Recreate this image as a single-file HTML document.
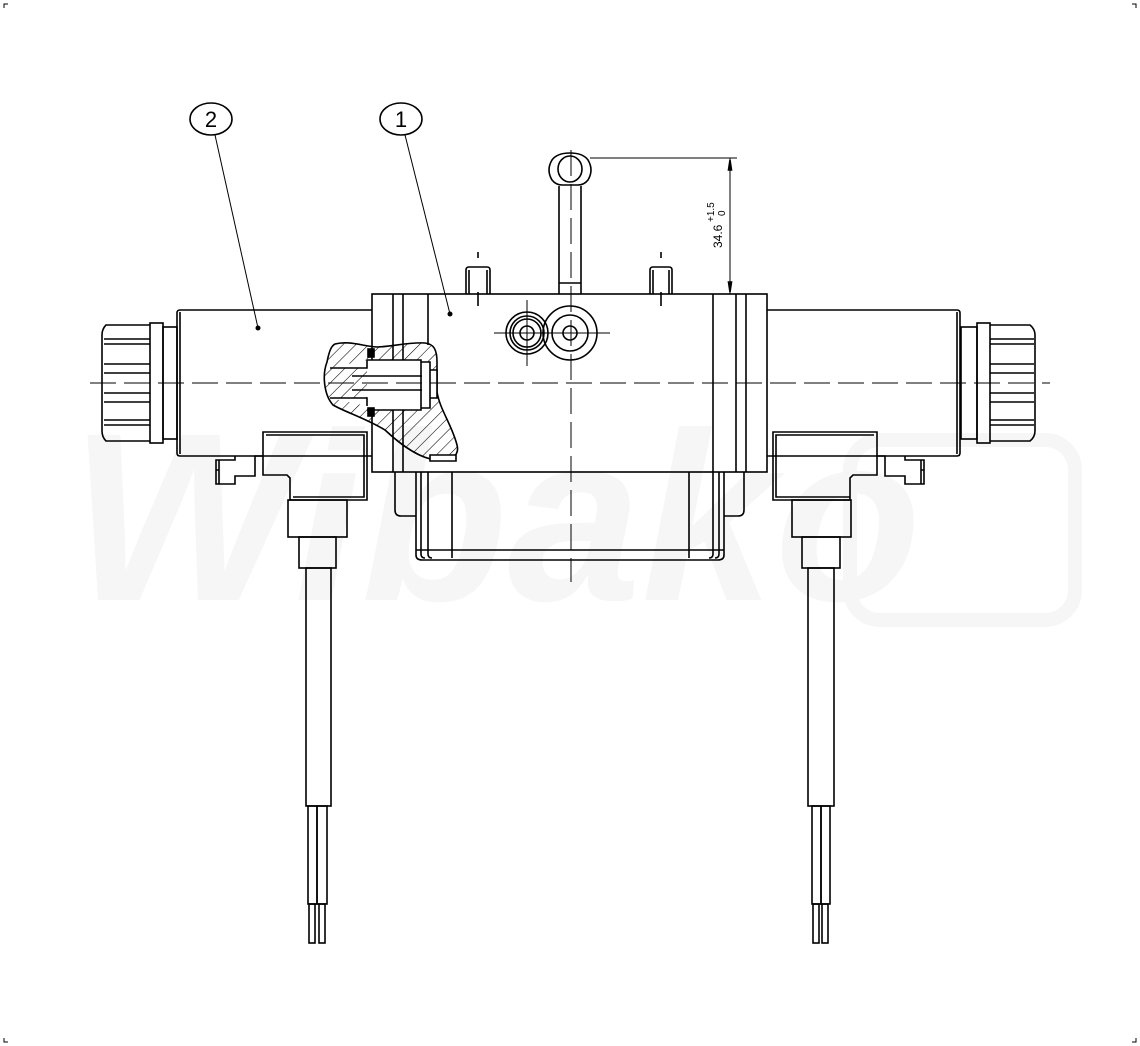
<!DOCTYPE html>
<html><head><meta charset="utf-8"><style>
html,body{margin:0;padding:0;background:#fff}
svg{display:block}
</style></head><body>
<svg width="1140" height="1046" viewBox="0 0 1140 1046" xmlns="http://www.w3.org/2000/svg">
<defs>
<pattern id="hatch" width="9" height="9" patternUnits="userSpaceOnUse" patternTransform="rotate(45)">
<line x1="0" y1="0" x2="0" y2="9" stroke="#000" stroke-width="1.1"/>
</pattern>
</defs>
<rect width="1140" height="1046" fill="#fff"/>
<!-- watermark -->
<text x="70" y="600" font-family="Liberation Sans, sans-serif" font-size="240" font-weight="bold" font-style="italic" fill="#f6f6f6">Wibako</text>
<rect x="850" y="440" width="225" height="180" rx="30" fill="none" stroke="#f6f6f6" stroke-width="14"/>
<!-- corner marks -->
<g stroke="#000" stroke-width="1" fill="none">
<path d="M4 8V4h4M1136 8V4h-4M4 1038v4h4M1136 1038v4h-4"/>
</g>
<g fill="none" stroke="#000" stroke-width="1.6">
<!-- balloons -->
<ellipse cx="211" cy="119" rx="21" ry="16"/>
<ellipse cx="401" cy="119" rx="21" ry="16"/>
<line x1="215" y1="135" x2="258" y2="328" stroke-width="1"/>
<line x1="405" y1="135" x2="450" y2="314" stroke-width="1"/>
<!-- main body -->
<rect x="372" y="294" width="395" height="178"/>
<line x1="393" y1="294" x2="393" y2="472"/>
<line x1="403" y1="294" x2="403" y2="472"/>
<line x1="428" y1="294" x2="428" y2="345"/>
<line x1="713" y1="294" x2="713" y2="472"/>
<line x1="736" y1="294" x2="736" y2="472"/>
<line x1="746" y1="294" x2="746" y2="472"/>
<!-- pins -->
<path d="M466 294V270q0-3 3-3h18q3 0 3 3v24M469 294V270M487 294V270"/>
<path d="M650 294V270q0-3 3-3h16q3 0 3 3v24M653 294V270M669 294V270"/>
<line x1="478" y1="252" x2="478" y2="258"/><line x1="478" y1="292" x2="478" y2="306"/>
<line x1="661" y1="252" x2="661" y2="258"/><line x1="661" y1="292" x2="661" y2="306"/>
<!-- stem & eye -->
<path d="M559 294V186M581 294V186M559 283h22"/>
<path d="M552 160 q-6 10 0 20 q4 5 10 5 h16 q6 0 10-5 q6-10 0-20 q-5-7-18-7 q-13 0-18 7z"/>
<ellipse cx="570" cy="169" rx="12" ry="13"/>
<!-- dimension -->
<line x1="590" y1="158" x2="737" y2="158" stroke-width="1"/>
<line x1="730" y1="158" x2="730" y2="294" stroke-width="1"/>
<path d="M730 160l-1.5 10h3z M730 292l-1.5-10h3z" fill="#000"/>
<!-- circles -->
<circle cx="527" cy="333" r="21"/><circle cx="527" cy="333" r="17"/><circle cx="527" cy="333" r="14"/><circle cx="527" cy="333" r="7"/>
<circle cx="570" cy="333" r="27"/><circle cx="570" cy="333" r="18"/><circle cx="570" cy="333" r="7"/>
<line x1="494" y1="333" x2="610" y2="333" stroke-width="1"/>
<line x1="527" y1="300" x2="527" y2="366" stroke-width="1"/>
<!-- left coil -->
<path d="M372 310H180q-3 0-3 3v140q0 3 3 3h192"/>
<line x1="180" y1="312" x2="180" y2="454"/>
<rect x="163" y="327" width="14" height="112"/>
<rect x="150" y="323" width="13" height="120"/>
<path d="M150 325H106q-4 4-4 10v96q0 6 4 10h44"/>
<path d="M104 339h46M104 344h46M104 364h46M104 373h46M104 393h46M104 402h46M104 420h46M104 425h46"/>
<!-- right coil -->
<path d="M767 310H957q3 0 3 3v140q0 3-3 3H767"/>
<line x1="957" y1="312" x2="957" y2="454"/>
<rect x="961" y="327" width="16" height="112"/>
<rect x="977" y="323" width="13" height="120"/>
<path d="M990 325H1030q5 4 5 10v96q0 6-5 10H990"/>
<path d="M990 339h44M990 344h44M990 364h44M990 373h44M990 393h44M990 402h44M990 420h44M990 425h44"/>
<!-- left connector -->
<path d="M263 432h104v68H290v-22l-3-3h-24z"/>
<path d="M266 435h98v62H293"/>
<rect x="288" y="500" width="59" height="37"/>
<rect x="299" y="537" width="37" height="31"/>
<rect x="306" y="568" width="25" height="238"/>
<rect x="308" y="806" width="9" height="98"/><rect x="317" y="806" width="10" height="98"/>
<rect x="309" y="904" width="6" height="39"/><rect x="319" y="904" width="6" height="39"/>
<!-- left clip -->
<path d="M263 456h-8v20h-20v8h-19v-24h19v-4"/><path d="M219 460v24M216 470h3"/>
<!-- right connector -->
<path d="M877 432H773v68h77v-22l3-3h24z"/>
<path d="M874 435h-98v62h74"/>
<rect x="792" y="500" width="59" height="37"/>
<rect x="802" y="537" width="38" height="31"/>
<rect x="808" y="568" width="26" height="238"/>
<rect x="812" y="806" width="9" height="98"/><rect x="821" y="806" width="9" height="98"/>
<rect x="813" y="904" width="6" height="39"/><rect x="822" y="904" width="6" height="39"/>
<!-- right clip -->
<path d="M877 456h8v20h20v8h19v-24h-19v-4"/><path d="M921 460v24M921 470h3"/>
<!-- bowl -->
<path d="M416 472v83q0 5 6 5h296q6 0 6-5v-83"/>
<path d="M421 472v82q0 4 4 4M428 472v82q0 4 4 4M452 472v86M689 472v86M713 472v82q0 4-4 4M719 472v82q0 4-4 4"/>
<line x1="416" y1="550" x2="724" y2="550"/>
<path d="M395 472v38q0 6 6 6h15M744 472v38q0 6-6 6h-14"/>
<!-- cutaway -->
<path d="M335 344 C350 340 365 347 378 347 C395 346 410 342 425 343 C434 344 437 350 437 362 L437 392 C440 410 452 425 457 445 C460 456 450 462 436 460 C418 458 400 444 385 430 C365 418 345 412 333 405 C324 395 322 375 327 362 C329 352 331 346 335 344 Z" fill="url(#hatch)"/>
<path d="M330 368h37v-8M330 398h37v8M367 360h54v50h-54M352 376h70M352 390h70M421 362h9v46h-9M430 370h7v28h-7" fill="#fff"/>
<rect x="368" y="349" width="6" height="8" fill="#000"/>
<rect x="368" y="408" width="6" height="8" fill="#000"/>
<path d="M430 455h26v6h-26z" fill="#fff"/>
</g>
<!-- center lines -->
<g stroke="#000" stroke-width="1" fill="none" stroke-dasharray="26,8">
<line x1="90" y1="383" x2="1050" y2="383"/>
<line x1="571" y1="150" x2="571" y2="582"/>
</g>
<!-- dimension text -->
<text transform="translate(722,248) rotate(-90)" font-family="Liberation Sans, sans-serif" font-size="12" fill="#000">34.6</text>
<text transform="translate(714,222) rotate(-90)" font-family="Liberation Sans, sans-serif" font-size="10" fill="#000">+1.5</text>
<text transform="translate(725,216) rotate(-90)" font-family="Liberation Sans, sans-serif" font-size="10" fill="#000">0</text>
<text x="211" y="127" text-anchor="middle" font-family="Liberation Sans, sans-serif" font-size="22" fill="#000">2</text>
<text x="401" y="127" text-anchor="middle" font-family="Liberation Sans, sans-serif" font-size="22" fill="#000">1</text>
<circle cx="258" cy="328" r="2.5" fill="#000"/>
<circle cx="450" cy="314" r="2.5" fill="#000"/>
</svg>
</body></html>
